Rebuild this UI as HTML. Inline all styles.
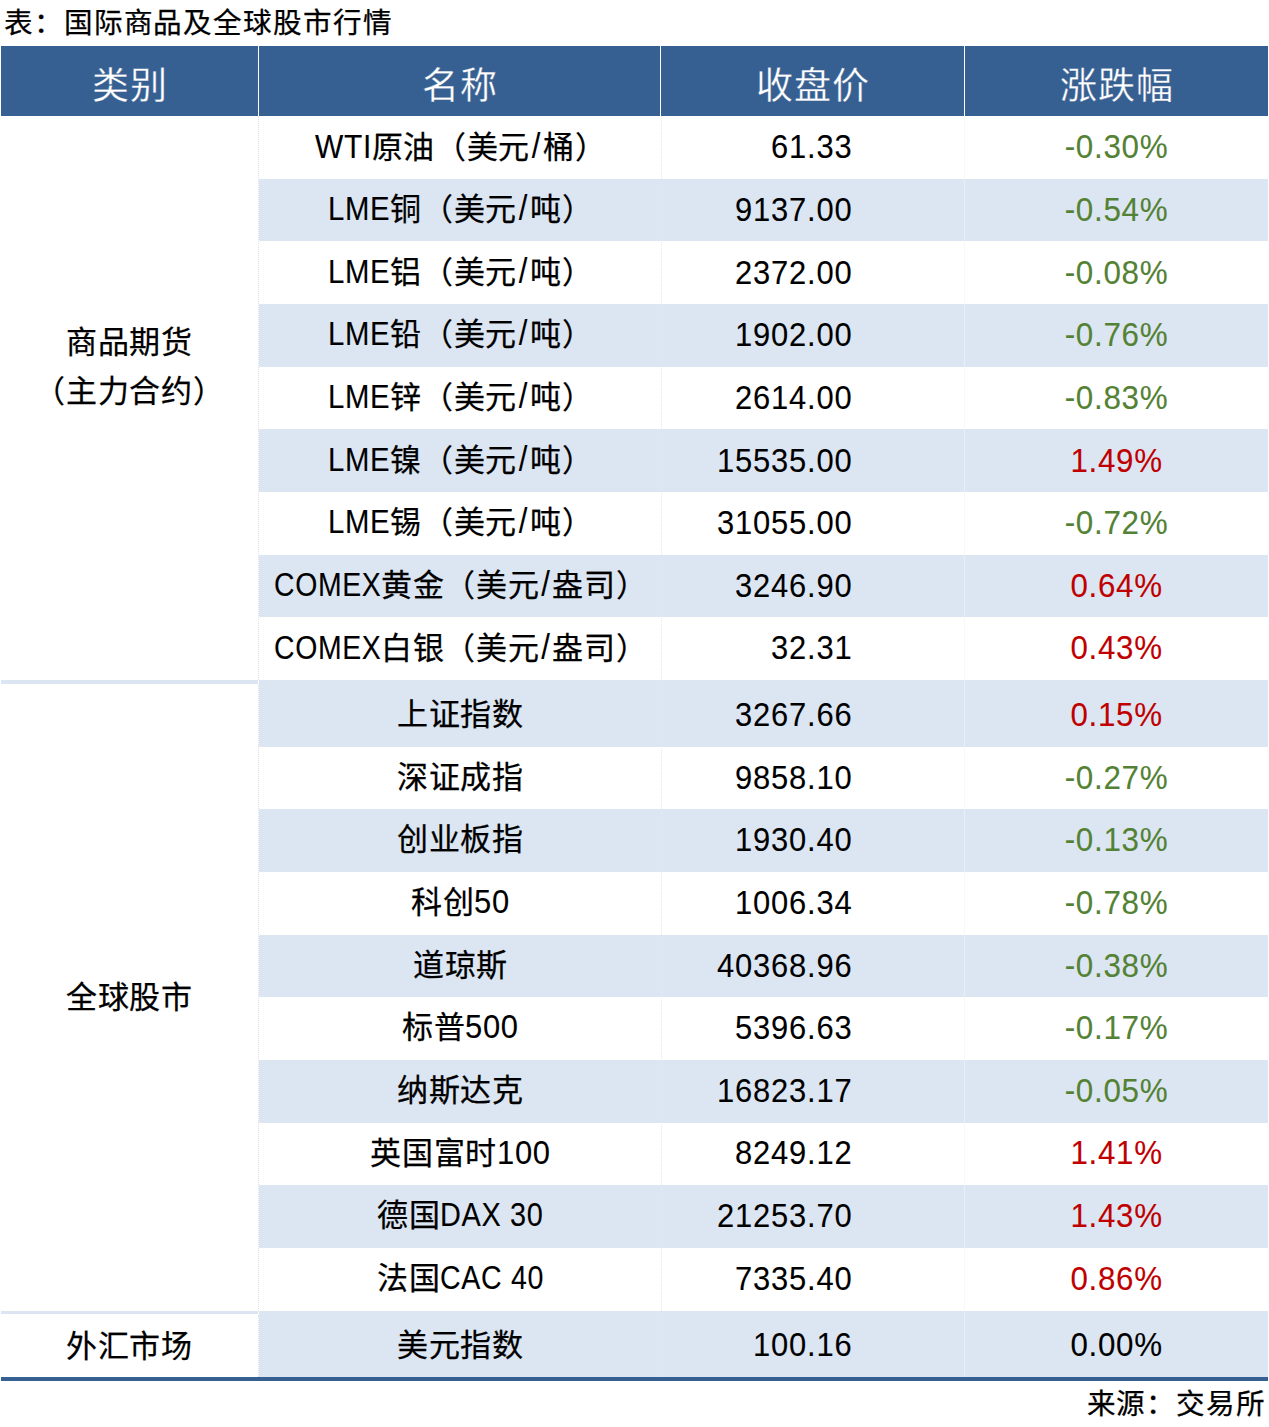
<!DOCTYPE html>
<html lang="zh-CN"><head><meta charset="utf-8">
<style>
html,body{margin:0;padding:0;}
body{width:1269px;height:1427px;position:relative;overflow:hidden;background:#fff;
 font-family:"Liberation Sans",sans-serif;color:#000;}
.a{position:absolute;}
.t{position:absolute;white-space:nowrap;-webkit-text-stroke:0.25px currentColor;font-size:31px;letter-spacing:0.7px;line-height:40px;}
.c2{left:259.5px;width:402px;text-align:center;}
.c3{left:660px;width:192px;text-align:right;}
.c4{left:964px;width:304px;text-align:center;}
.c1{left:1px;width:257px;text-align:center;}
.g{color:#548235;}
.r{color:#c00000;}
.l{display:inline-block;-webkit-text-stroke:0.1px currentColor;transform-origin:0 30.76px;}
.h{position:absolute;-webkit-text-stroke:0.3px #376092;top:46px;height:70px;line-height:70px;color:#fff;font-size:37px;letter-spacing:1px;text-align:center;white-space:nowrap;}
</style></head><body>

<div class="t" style="left:4px;top:3px;font-size:28.6px;letter-spacing:0.9px;">表：国际商品及全球股市行情</div>
<div class="a" style="left:1px;top:46px;width:1267px;height:70px;background:#376092;"></div>
<div class="a" style="left:258px;top:46px;width:1px;height:70px;background:#fff;"></div>
<div class="a" style="left:660px;top:46px;width:1px;height:70px;background:#fff;"></div>
<div class="a" style="left:964px;top:46px;width:1px;height:70px;background:#fff;"></div>
<div class="h" style="left:1px;width:257px;top:51.5px;">类别</div>
<div class="h" style="left:259px;width:401px;top:51.5px;">名称</div>
<div class="h" style="left:661px;width:303px;top:51.5px;">收盘价</div>
<div class="h" style="left:965px;width:303px;top:51.5px;">涨跌幅</div>
<div class="a" style="left:259px;top:178.67px;width:1009px;height:62.67px;background:#dce6f2;"></div>
<div class="a" style="left:259px;top:304.01px;width:1009px;height:62.67px;background:#dce6f2;"></div>
<div class="a" style="left:259px;top:429.35px;width:1009px;height:62.67px;background:#dce6f2;"></div>
<div class="a" style="left:259px;top:554.69px;width:1009px;height:62.67px;background:#dce6f2;"></div>
<div class="a" style="left:259px;top:684.00px;width:1009px;height:62.67px;background:#dce6f2;"></div>
<div class="a" style="left:259px;top:809.34px;width:1009px;height:62.67px;background:#dce6f2;"></div>
<div class="a" style="left:259px;top:934.68px;width:1009px;height:62.67px;background:#dce6f2;"></div>
<div class="a" style="left:259px;top:1060.02px;width:1009px;height:62.67px;background:#dce6f2;"></div>
<div class="a" style="left:259px;top:1185.36px;width:1009px;height:62.67px;background:#dce6f2;"></div>
<div class="a" style="left:259px;top:1314.70px;width:1009px;height:62.67px;background:#dce6f2;"></div>
<div class="a" style="left:259px;top:680.03px;width:1009px;height:4.5px;background:#dce6f2;"></div>
<div class="a" style="left:259px;top:1310.70px;width:1009px;height:4.5px;background:#dce6f2;"></div>
<div class="a" style="left:1px;top:680.03px;width:257px;height:4px;background:#dce6f2;"></div>
<div class="a" style="left:1px;top:1310.70px;width:257px;height:3.4px;background:#dce6f2;"></div>
<div class="a" style="left:258px;top:116.00px;width:0;height:564.03px;border-left:1px dotted #e0e0e4;"></div>
<div class="a" style="left:258px;top:684.00px;width:0;height:626.70px;border-left:1px dotted #e0e0e4;"></div>
<div class="a" style="left:258px;top:1314.70px;width:0;height:62.30px;border-left:1px dotted #e0e0e4;"></div>
<div class="a" style="left:661px;top:116px;width:0;height:1261px;border-left:1px dotted #e8e8ec;"></div>
<div class="a" style="left:964px;top:116px;width:1px;height:1261px;background:#f3f3f7;opacity:0.6;"></div>
<div class="a" style="left:1px;top:1377px;width:1267px;height:4px;background:#376092;"></div>
<div class="t c2" style="top:127.54px;"><span class="l" style="width:56.97px;letter-spacing:0.7px;transform:scale(0.9671,1.068);">WTI</span>原油（美元<span class="l" style="padding-left:1.77px;letter-spacing:2.47px;transform:scale(1,1.15);">/</span>桶）</div>
<div class="t c3" style="top:128.34px;"><span class="l" style="width:81.44px;letter-spacing:0.8px;transform:scale(0.9983,1.068);">61.33</span></div>
<div class="t c4 g" style="top:128.34px;"><span class="l" style="width:103.74px;letter-spacing:0.7px;transform:scale(1.0129,1.068);">-0.30%</span></div>
<div class="t c2" style="top:190.17px;"><span class="l" style="width:62.36px;letter-spacing:0.7px;transform:scale(0.9472,1.068);">LME</span>铜（美元<span class="l" style="padding-left:1.77px;letter-spacing:2.47px;transform:scale(1,1.15);">/</span>吨）</div>
<div class="t c3" style="top:190.97px;"><span class="l" style="width:117.45px;letter-spacing:0.8px;transform:scale(0.9982,1.068);">9137.00</span></div>
<div class="t c4 g" style="top:190.97px;"><span class="l" style="width:103.74px;letter-spacing:0.7px;transform:scale(1.0129,1.068);">-0.54%</span></div>
<div class="t c2" style="top:252.81px;"><span class="l" style="width:62.36px;letter-spacing:0.7px;transform:scale(0.9472,1.068);">LME</span>铝（美元<span class="l" style="padding-left:1.77px;letter-spacing:2.47px;transform:scale(1,1.15);">/</span>吨）</div>
<div class="t c3" style="top:253.61px;"><span class="l" style="width:117.45px;letter-spacing:0.8px;transform:scale(0.9982,1.068);">2372.00</span></div>
<div class="t c4 g" style="top:253.61px;"><span class="l" style="width:103.74px;letter-spacing:0.7px;transform:scale(1.0129,1.068);">-0.08%</span></div>
<div class="t c2" style="top:315.44px;"><span class="l" style="width:62.36px;letter-spacing:0.7px;transform:scale(0.9472,1.068);">LME</span>铅（美元<span class="l" style="padding-left:1.77px;letter-spacing:2.47px;transform:scale(1,1.15);">/</span>吨）</div>
<div class="t c3" style="top:316.24px;"><span class="l" style="width:117.45px;letter-spacing:0.8px;transform:scale(0.9982,1.068);">1902.00</span></div>
<div class="t c4 g" style="top:316.24px;"><span class="l" style="width:103.74px;letter-spacing:0.7px;transform:scale(1.0129,1.068);">-0.76%</span></div>
<div class="t c2" style="top:378.07px;"><span class="l" style="width:62.36px;letter-spacing:0.7px;transform:scale(0.9472,1.068);">LME</span>锌（美元<span class="l" style="padding-left:1.77px;letter-spacing:2.47px;transform:scale(1,1.15);">/</span>吨）</div>
<div class="t c3" style="top:378.88px;"><span class="l" style="width:117.45px;letter-spacing:0.8px;transform:scale(0.9982,1.068);">2614.00</span></div>
<div class="t c4 g" style="top:378.88px;"><span class="l" style="width:103.74px;letter-spacing:0.7px;transform:scale(1.0129,1.068);">-0.83%</span></div>
<div class="t c2" style="top:440.71px;"><span class="l" style="width:62.36px;letter-spacing:0.7px;transform:scale(0.9472,1.068);">LME</span>镍（美元<span class="l" style="padding-left:1.77px;letter-spacing:2.47px;transform:scale(1,1.15);">/</span>吨）</div>
<div class="t c3" style="top:441.51px;"><span class="l" style="width:135.45px;letter-spacing:0.8px;transform:scale(0.9982,1.068);">15535.00</span></div>
<div class="t c4 r" style="top:441.51px;"><span class="l" style="width:92.28px;letter-spacing:0.7px;transform:scale(1.0097,1.068);">1.49%</span></div>
<div class="t c2" style="top:503.35px;"><span class="l" style="width:62.36px;letter-spacing:0.7px;transform:scale(0.9472,1.068);">LME</span>锡（美元<span class="l" style="padding-left:1.77px;letter-spacing:2.47px;transform:scale(1,1.15);">/</span>吨）</div>
<div class="t c3" style="top:504.15px;"><span class="l" style="width:135.45px;letter-spacing:0.8px;transform:scale(0.9982,1.068);">31055.00</span></div>
<div class="t c4 g" style="top:504.15px;"><span class="l" style="width:103.74px;letter-spacing:0.7px;transform:scale(1.0129,1.068);">-0.72%</span></div>
<div class="t c2" style="top:565.98px;"><span class="l" style="width:107.47px;letter-spacing:0.7px;transform:scale(0.9172,1.068);">COMEX</span>黄金（美元<span class="l" style="padding-left:1.77px;letter-spacing:2.47px;transform:scale(1,1.15);">/</span>盎司）</div>
<div class="t c3" style="top:566.78px;"><span class="l" style="width:117.45px;letter-spacing:0.8px;transform:scale(0.9982,1.068);">3246.90</span></div>
<div class="t c4 r" style="top:566.78px;"><span class="l" style="width:92.28px;letter-spacing:0.7px;transform:scale(1.0097,1.068);">0.64%</span></div>
<div class="t c2" style="top:628.62px;"><span class="l" style="width:107.47px;letter-spacing:0.7px;transform:scale(0.9172,1.068);">COMEX</span>白银（美元<span class="l" style="padding-left:1.77px;letter-spacing:2.47px;transform:scale(1,1.15);">/</span>盎司）</div>
<div class="t c3" style="top:629.42px;"><span class="l" style="width:81.44px;letter-spacing:0.8px;transform:scale(0.9983,1.068);">32.31</span></div>
<div class="t c4 r" style="top:629.42px;"><span class="l" style="width:92.28px;letter-spacing:0.7px;transform:scale(1.0097,1.068);">0.43%</span></div>
<div class="t c2" style="top:695.22px;">上证指数</div>
<div class="t c3" style="top:696.02px;"><span class="l" style="width:117.45px;letter-spacing:0.8px;transform:scale(0.9982,1.068);">3267.66</span></div>
<div class="t c4 r" style="top:696.02px;"><span class="l" style="width:92.28px;letter-spacing:0.7px;transform:scale(1.0097,1.068);">0.15%</span></div>
<div class="t c2" style="top:757.86px;">深证成指</div>
<div class="t c3" style="top:758.65px;"><span class="l" style="width:117.45px;letter-spacing:0.8px;transform:scale(0.9982,1.068);">9858.10</span></div>
<div class="t c4 g" style="top:758.65px;"><span class="l" style="width:103.74px;letter-spacing:0.7px;transform:scale(1.0129,1.068);">-0.27%</span></div>
<div class="t c2" style="top:820.49px;">创业板指</div>
<div class="t c3" style="top:821.29px;"><span class="l" style="width:117.45px;letter-spacing:0.8px;transform:scale(0.9982,1.068);">1930.40</span></div>
<div class="t c4 g" style="top:821.29px;"><span class="l" style="width:103.74px;letter-spacing:0.7px;transform:scale(1.0129,1.068);">-0.13%</span></div>
<div class="t c2" style="top:883.13px;">科创<span class="l" style="width:35.81px;letter-spacing:0.7px;transform:scale(0.9980,1.068);">50</span></div>
<div class="t c3" style="top:883.93px;"><span class="l" style="width:117.45px;letter-spacing:0.8px;transform:scale(0.9982,1.068);">1006.34</span></div>
<div class="t c4 g" style="top:883.93px;"><span class="l" style="width:103.74px;letter-spacing:0.7px;transform:scale(1.0129,1.068);">-0.78%</span></div>
<div class="t c2" style="top:945.76px;">道琼斯</div>
<div class="t c3" style="top:946.56px;"><span class="l" style="width:135.45px;letter-spacing:0.8px;transform:scale(0.9982,1.068);">40368.96</span></div>
<div class="t c4 g" style="top:946.56px;"><span class="l" style="width:103.74px;letter-spacing:0.7px;transform:scale(1.0129,1.068);">-0.38%</span></div>
<div class="t c2" style="top:1008.39px;">标普<span class="l" style="width:53.72px;letter-spacing:0.7px;transform:scale(0.9980,1.068);">500</span></div>
<div class="t c3" style="top:1009.19px;"><span class="l" style="width:117.45px;letter-spacing:0.8px;transform:scale(0.9982,1.068);">5396.63</span></div>
<div class="t c4 g" style="top:1009.19px;"><span class="l" style="width:103.74px;letter-spacing:0.7px;transform:scale(1.0129,1.068);">-0.17%</span></div>
<div class="t c2" style="top:1071.03px;">纳斯达克</div>
<div class="t c3" style="top:1071.83px;"><span class="l" style="width:135.45px;letter-spacing:0.8px;transform:scale(0.9982,1.068);">16823.17</span></div>
<div class="t c4 g" style="top:1071.83px;"><span class="l" style="width:103.74px;letter-spacing:0.7px;transform:scale(1.0129,1.068);">-0.05%</span></div>
<div class="t c2" style="top:1133.67px;">英国富时<span class="l" style="width:53.72px;letter-spacing:0.7px;transform:scale(0.9980,1.068);">100</span></div>
<div class="t c3" style="top:1134.47px;"><span class="l" style="width:117.45px;letter-spacing:0.8px;transform:scale(0.9982,1.068);">8249.12</span></div>
<div class="t c4 r" style="top:1134.47px;"><span class="l" style="width:92.28px;letter-spacing:0.7px;transform:scale(1.0097,1.068);">1.41%</span></div>
<div class="t c2" style="top:1196.30px;">德国<span class="l" style="width:103.49px;letter-spacing:0.7px;transform:scale(0.9321,1.068);">DAX 30</span></div>
<div class="t c3" style="top:1197.10px;"><span class="l" style="width:135.45px;letter-spacing:0.8px;transform:scale(0.9982,1.068);">21253.70</span></div>
<div class="t c4 r" style="top:1197.10px;"><span class="l" style="width:92.28px;letter-spacing:0.7px;transform:scale(1.0097,1.068);">1.43%</span></div>
<div class="t c2" style="top:1258.93px;">法国<span class="l" style="width:103.96px;letter-spacing:0.7px;transform:scale(0.9221,1.068);">CAC 40</span></div>
<div class="t c3" style="top:1259.73px;"><span class="l" style="width:117.45px;letter-spacing:0.8px;transform:scale(0.9982,1.068);">7335.40</span></div>
<div class="t c4 r" style="top:1259.73px;"><span class="l" style="width:92.28px;letter-spacing:0.7px;transform:scale(1.0097,1.068);">0.86%</span></div>
<div class="t c2" style="top:1325.57px;">美元指数</div>
<div class="t c3" style="top:1326.37px;"><span class="l" style="width:99.44px;letter-spacing:0.8px;transform:scale(0.9983,1.068);">100.16</span></div>
<div class="t c4 " style="top:1326.37px;"><span class="l" style="width:92.28px;letter-spacing:0.7px;transform:scale(1.0097,1.068);">0.00%</span></div>
<div class="t c1" style="top:322.8px;">商品期货</div>
<div class="t c1" style="top:371.7px;">（主力合约）</div>
<div class="t c1" style="top:977.7px;">全球股市</div>
<div class="t c1" style="top:1326.8px;">外汇市场</div>
<div class="t" style="right:3px;top:1384px;font-size:28.6px;letter-spacing:0.9px;">来源：交易所</div>
</body></html>
